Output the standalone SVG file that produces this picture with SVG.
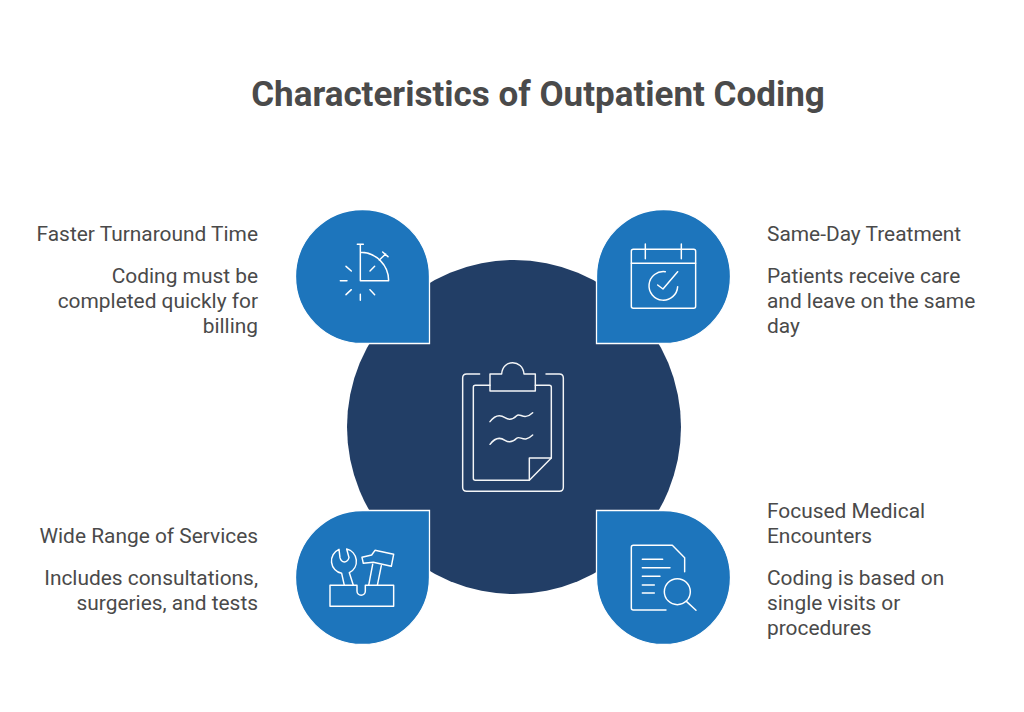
<svg xmlns="http://www.w3.org/2000/svg" width="1024" height="712" viewBox="0 0 1024 712">
<style>
text{font-family:Roboto,"Liberation Sans",sans-serif;fill:#4a4a4a;font-size:20.9px}
.t{font-size:35px;font-weight:700}
.e{text-anchor:end}
.d{fill:#1d75bc;stroke:#fff;stroke-width:1.3}
.i{fill:none;stroke:#fff;stroke-width:4.4;stroke-linecap:round;stroke-linejoin:round}
</style>
<rect width="1024" height="712" fill="#fff"/>
<text class="t" x="538" y="106" text-anchor="middle">Characteristics of Outpatient Coding</text>
<g id="center">
<circle cx="514" cy="427" r="167" fill="#223e66"/>
<g class="i" transform="translate(450 355) scale(.3333)" opacity=".95">
<path d="M89 57H50Q38 57 38 69V397Q38 409 50 409H328Q340 409 340 397V69Q340 57 328 57H288"/>
<path d="M120 91H76Q70 91 70 97V370Q70 376 76 376H238L304 309V97Q304 91 298 91H256"/>
<path d="M120 108V57H155C158 12 218 12 222 57H256V108Z"/>
<path d="M238 376V309H304"/>
<path d="M120 200C135 180 150 178 165 188S190 192 200 182S222 198 248 173"/>
<path d="M120 268C135 248 150 246 165 256S190 260 200 250S222 266 248 240"/>
</g>
</g>
<g id="node-faster">
<path class="d" d="M429.500 343.500H362.500A67 67 0 1 1 429.500 276.500Z"/>
<g class="i" transform="translate(290 205) scale(.3333)">
<path d="M202 118H220M211 118V227H296A85 85 0 0 0 211 142"/>
<path d="M268 165L287 147M278 141L294 155"/>
<path d="M240 198L254 184M184 198L168 184M171 227H151M184 254L168 269M211 268V286M240 254L254 269"/>
</g>
<text class="e" x="258" y="241">Faster Turnaround Time</text>
<text class="e" x="258" y="283">Coding must be</text>
<text class="e" x="258" y="308">completed quickly for</text>
<text class="e" x="258" y="333">billing</text>
</g>
<g id="node-sameday">
<path class="d" d="M596.500 343.500V276.500A67 67 0 1 1 663.500 343.500Z"/>
<g class="i" transform="translate(590 205) scale(.3333)">
<rect x="124" y="133" width="193" height="177" rx="6"/>
<path d="M124 175H317M166 117V161M274 117V161"/>
<path d="M226 200A43 43 0 1 0 263 245"/>
<path d="M203 240L219 252L263 200"/>
</g>
<text x="767" y="241">Same-Day Treatment</text>
<text x="767" y="283">Patients receive care</text>
<text x="767" y="308">and leave on the same</text>
<text x="767" y="333">day</text>
</g>
<g id="node-wide">
<path class="d" d="M429.500 510.500V577.500A67 67 0 1 1 362.500 510.500Z"/>
<g class="i" transform="translate(290 505) scale(.3333)">
<path d="M120 241H201V258A12.500 12.500 0 0 0 226 258V241H311V304H120Z"/>
<path d="M163 241L155 205A38 38 0 0 1 147 133L150 158C154 175 172 175 177 158L170 132A38 38 0 0 1 178 203L190 241"/>
<path d="M236 241L248 178M274 182L262 241"/>
<path d="M216 157L245 150L255 136L311 148L304 184L250 172L220 175Z"/>
</g>
<text class="e" x="258" y="543">Wide Range of Services</text>
<text class="e" x="258" y="585">Includes consultations,</text>
<text class="e" x="258" y="610">surgeries, and tests</text>
</g>
<g id="node-focused">
<path class="d" d="M596.500 510.500H663.500A67 67 0 1 1 596.500 577.500Z"/>
<g class="i" transform="translate(590 505) scale(.3333)">
<path d="M228 315H130Q124 315 124 309V127Q124 121 130 121H247L284 158V200"/>
<path d="M157 163H218M157 188H240M157 214H210M157 240H193M157 264H193"/>
<circle cx="262" cy="260" r="39"/>
<path d="M290 290L318 316"/>
</g>
<text x="767" y="518">Focused Medical</text>
<text x="767" y="543">Encounters</text>
<text x="767" y="585">Coding is based on</text>
<text x="767" y="610">single visits or</text>
<text x="767" y="635">procedures</text>
</g>
<g id="connectors"></g>
</svg>
